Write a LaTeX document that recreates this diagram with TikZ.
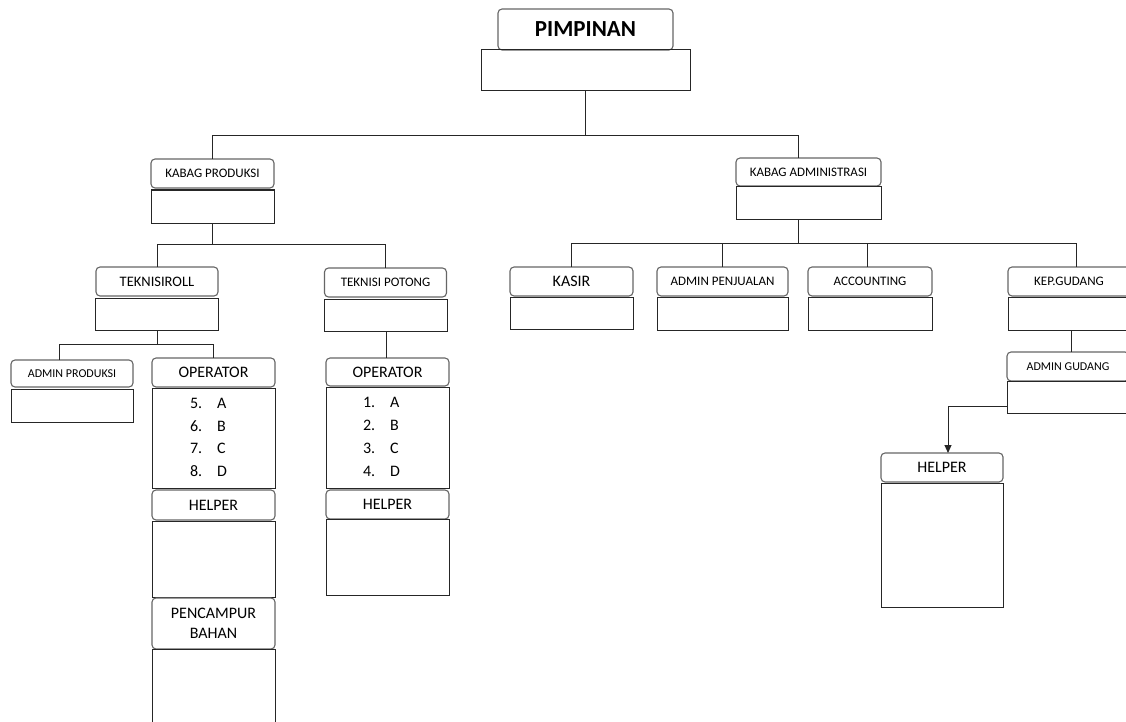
\documentclass[tikz,border=0pt]{standalone}
\usepackage{fontspec}
\setmainfont{Carlito}
\usetikzlibrary{arrows.meta}

\begin{document}
\begin{tikzpicture}[x=1pt,y=-1pt,
  title/.style={draw=black!60, line width=1.1pt, rounded corners=4pt, inner sep=0pt, outer sep=0pt,
                text=black, align=center, font=\fontsize{13}{15}\selectfont},
  body/.style={draw=black!85, line width=1pt, inner sep=0pt, outer sep=0pt},
  link/.style={draw=black!85, line width=1pt},
  big/.style={font=\fontsize{16}{19.5}\selectfont},
  small/.style={font=\fontsize{12}{14}\selectfont},
  listtext/.style={inner sep=0pt, text=black, font=\fontsize{16}{22.7}\selectfont}]

\fill[white] (0,0) rectangle (1126,722);
\clip (0,0) rectangle (1126,722);

% ---- top ----
\node[title, minimum width=175pt, minimum height=41pt, font=\fontsize{23}{26}\bfseries] (pim) at (585.5,29.5) {\raisebox{-2pt}{PIMPINAN}};
\node[body, minimum width=209pt, minimum height=41pt] (pimb) at (585.5,70.5) {};

% ---- production branch ----
\node[title, minimum width=123pt, minimum height=29pt] (kp) at (212.5,173.5) {\raisebox{-1pt}{KABAG PRODUKSI}};
\node[body, minimum width=123pt, minimum height=33pt] (kpb) at (212.5,206.5) {};

\node[title, minimum width=122pt, minimum height=29pt, font=\fontsize{14.5}{16}\selectfont] (tr) at (157,281.5) {TEKNISIROLL};
\node[body, minimum width=123pt, minimum height=32pt] (trb) at (157,314) {};

\node[title, minimum width=122pt, minimum height=29pt] (tp) at (385.5,282.5) {TEKNISI POTONG};
\node[body, minimum width=123pt, minimum height=32pt] (tpb) at (385.5,315) {};

\node[title, small, minimum width=122pt, minimum height=27pt] (ap) at (72,373.5) {ADMIN PRODUKSI};
\node[body, minimum width=122pt, minimum height=33pt] (apb) at (72,405.5) {};

\node[title, big, minimum width=123pt, minimum height=29pt] (op1) at (213.5,372.5) {OPERATOR};
\node[body, minimum width=123pt, minimum height=100pt] (op1b) at (213.5,438) {};
\node[listtext] (l1) at ([xshift=-5pt]op1b.center)
  {\begin{tabular}{@{}l@{\hspace{15pt}}l@{}}5.&A\\6.&B\\7.&C\\8.&D\end{tabular}};
\node[title, big, minimum width=123pt, minimum height=30pt] (h1) at (213.5,505) {HELPER};
\node[body, minimum width=123pt, minimum height=76pt] (h1b) at (213.5,559) {};
\node[title, big, minimum width=123pt, minimum height=51pt] (pc) at (213.5,623.5) {PENCAMPUR\\BAHAN};
\node[body, minimum width=123pt, minimum height=90pt] (pcb) at (213.5,694) {};

\node[title, big, minimum width=123pt, minimum height=28pt] (op2) at (387.5,372) {OPERATOR};
\node[body, minimum width=123pt, minimum height=101pt] (op2b) at (387.5,437.5) {};
\node[listtext] (l2) at ([xshift=-6pt]op2b.center)
  {\begin{tabular}{@{}l@{\hspace{15pt}}l@{}}1.&A\\2.&B\\3.&C\\4.&D\end{tabular}};
\node[title, big, minimum width=123pt, minimum height=29pt] (h2) at (387.5,504.5) {HELPER};
\node[body, minimum width=123pt, minimum height=76pt] (h2b) at (387.5,557) {};

% ---- administration branch ----
\node[title, minimum width=145pt, minimum height=28pt] (ka) at (808.5,172) {KABAG ADMINISTRASI};
\node[body, minimum width=145pt, minimum height=32pt] (kab) at (808.5,203) {};

\node[title, big, minimum width=123pt, minimum height=29pt] (kasir) at (571.5,281.5) {KASIR};
\node[body, minimum width=123pt, minimum height=32pt] (kasirb) at (571.5,313) {};

\node[title, minimum width=131pt, minimum height=29pt] (apj) at (722.5,281.5) {ADMIN PENJUALAN};
\node[body, minimum width=131pt, minimum height=33pt] (apjb) at (722.5,313.5) {};

\node[title, minimum width=124pt, minimum height=29pt] (acc) at (870,281.5) {ACCOUNTING};
\node[body, minimum width=124pt, minimum height=33pt] (accb) at (870,313.5) {};

\node[title, minimum width=122pt, minimum height=29pt] (kg) at (1069,281.5) {KEP.GUDANG};
\node[body, minimum width=122pt, minimum height=33pt] (kgb) at (1069,313.5) {};

\node[title, small, minimum width=122pt, minimum height=29pt] (ag) at (1068,366.5) {ADMIN GUDANG};
\node[body, minimum width=122pt, minimum height=32pt] (agb) at (1068,397) {};

\node[title, big, minimum width=122pt, minimum height=29pt] (hp) at (942,467.5) {HELPER};
\node[body, minimum width=122pt, minimum height=124pt] (hpb) at (942,545) {};

% ---- connectors ----
\coordinate (j1) at (585.5,136);
\draw[link] (pimb.south) -- (j1);
\draw[link] (kp.north) |- (j1);
\draw[link] (j1) -| ([xshift=-10.5pt]ka.north);

\coordinate (j2) at (212.5,244);
\draw[link] (kpb.south) -- (j2);
\draw[link] (tr.north) |- (j2);
\draw[link] (j2) -| (tp.north);

\coordinate (j3) at (157,344);
\draw[link] (trb.south) -- (j3);
\draw[link] ([xshift=-13pt]ap.north) |- (j3);
\draw[link] (j3) -| (op1.north);

\draw[link] ([xshift=1pt]tpb.south) -- ([xshift=1pt]tpb.south |- op2.north);

\coordinate (j4) at (798,243);
\draw[link] ([xshift=-10.5pt]kab.south) -- (j4);
\draw[link] (kasir.north) |- (j4);
\draw[link] (j4) -| ([xshift=7pt]kg.north);
\draw[link] (apj.north) -- (apj.north |- j4);
\draw[link] ([xshift=-3pt]acc.north) -- ([xshift=-3pt]acc.north |- j4);

\draw[link] ([xshift=2pt]kgb.south) -- ([xshift=2pt]kgb.south |- ag.north);

\draw[link, -{Triangle[length=8pt,width=7pt]}] (agb.north west) -- ([yshift=-25pt]agb.north west) -| ([xshift=6pt]hp.north);

\end{tikzpicture}
\end{document}
